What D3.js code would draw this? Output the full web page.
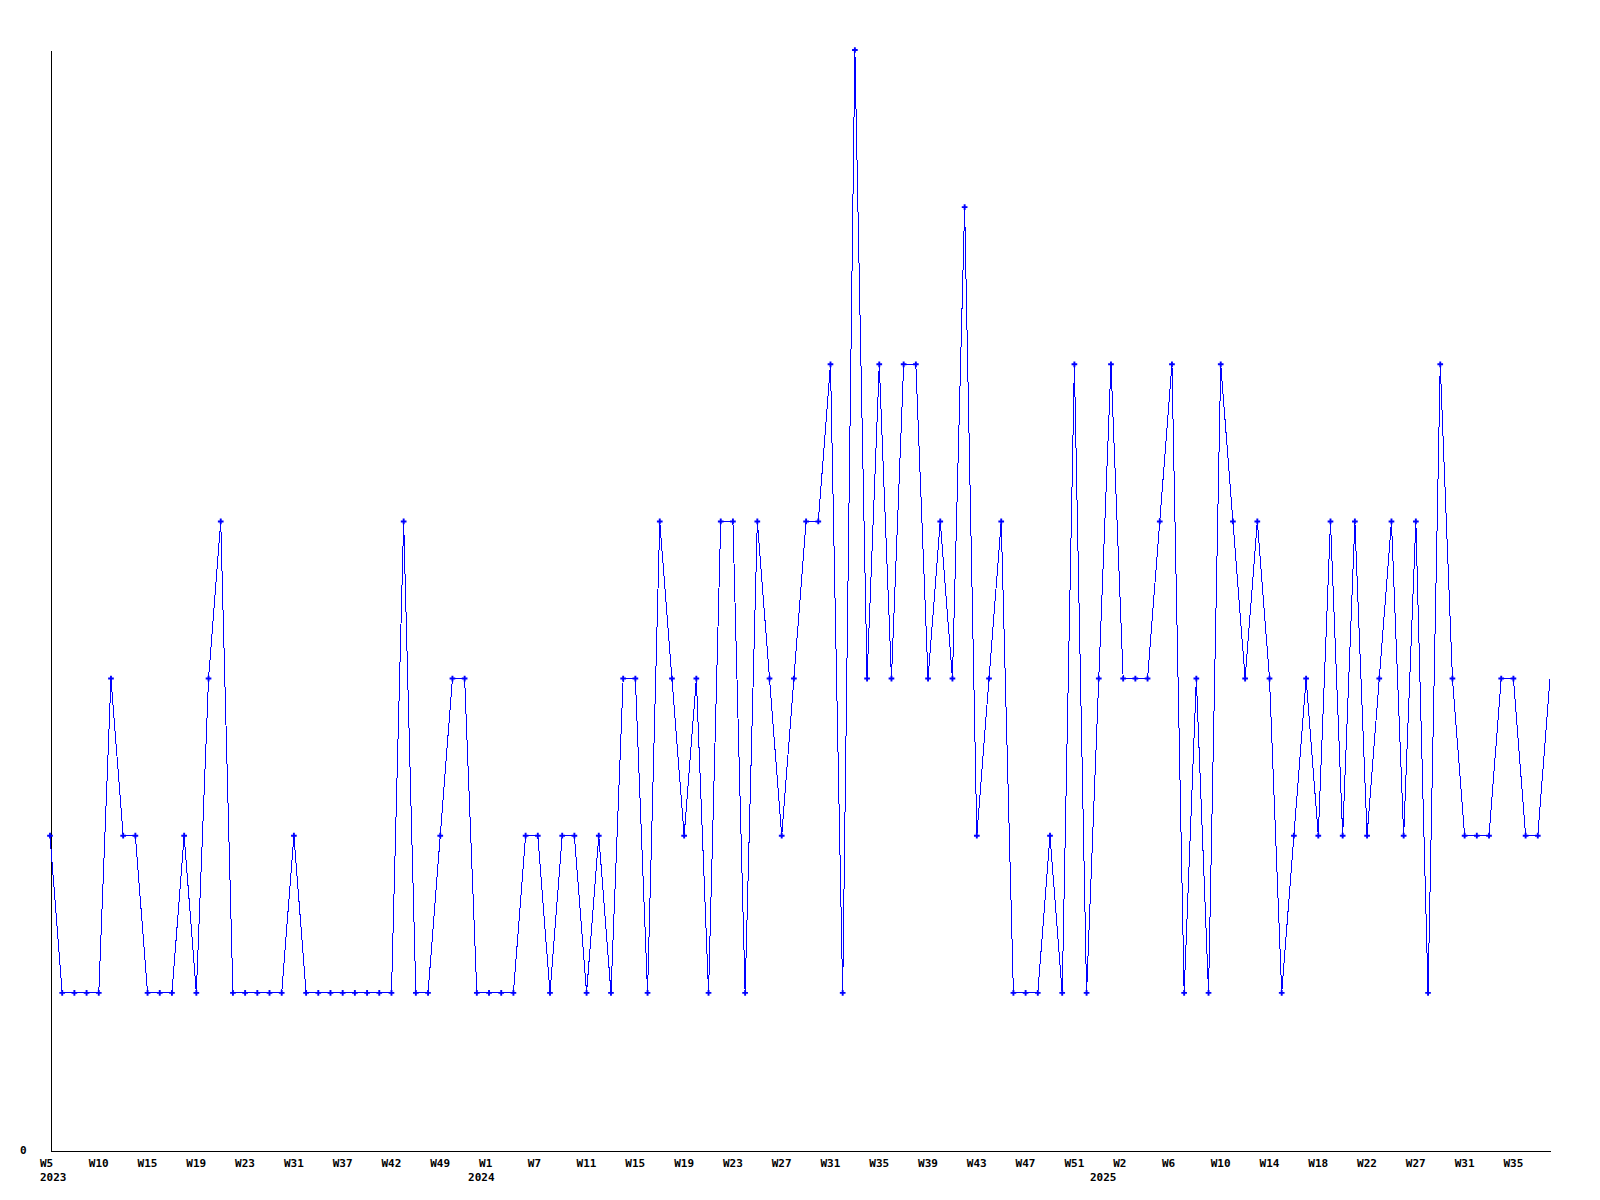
<!DOCTYPE html>
<html>
<head>
<meta charset="utf-8">
<script src="https://cdn.jsdelivr.net/npm/d3@7"></script>
<style>
    body { margin: 0; background: #fff; }
    text { font-family: "DejaVu Sans Mono", monospace; font-weight: bold; font-size: 11px; fill: #000; }
</style>
</head>
<body>
<svg id="vis" width="1600" height="1200"></svg>
<script>
/**
 * week numbers of each data point, one array per year
 */
const WEEKS_2023 = [5, 6, 7, 8, 10, 11, 12, 14, 15, 16, 17, 18, 19, 20, 21, 22, 23, 25, 27, 29,
    31, 32, 34, 35, 37, 38, 39, 40, 42, 43, 45, 47, 49, 50, 51, 52];
const WEEKS_2024 = [1, 2, 4, 5, 7, 8, 9, 10, 11, 12, 13, 14, 15, 16, 17, 18, 19, 20, 21, 22,
    23, 24, 25, 26, 27, 28, 29, 30, 31, 32, 33, 34, 35, 36, 37, 38, 39, 40, 41, 42,
    43, 44, 45, 46, 47, 48, 49, 50, 51, 52, 53];
const WEEKS_2025 = [1, 2, 3, 4, 5, 6, 7, 8, 9, 10, 11, 12, 13, 14, 15, 16, 17, 18, 19, 20,
    21, 22, 24, 25, 26, 27, 28, 29, 30, 31, 32, 33, 34, 35, 36, 37, 38];
const YEARS = [2023, 2024, 2025];

// weekly counts, in the same order as the weeks above
const VALUES = [
    2, 1, 1, 1, 1, 3, 2, 2, 1, 1,
    1, 2, 1, 3, 4, 1, 1, 1, 1, 1,
    2, 1, 1, 1, 1, 1, 1, 1, 1, 4,
    1, 1, 2, 3, 3, 1, 1, 1, 1, 2,
    2, 1, 2, 2, 1, 2, 1, 3, 3, 1,
    4, 3, 2, 3, 1, 4, 4, 1, 4, 3,
    2, 3, 4, 4, 5, 1, 7, 3, 5, 3,
    5, 5, 3, 4, 3, 6, 2, 3, 4, 1,
    1, 1, 2, 1, 5, 1, 3, 5, 3, 3,
    3, 4, 5, 1, 3, 1, 5, 4, 3, 4,
    3, 1, 2, 3, 2, 4, 2, 4, 2, 3,
    4, 2, 4, 1, 5, 3, 2, 2, 2, 3,
    3, 2, 2, 3
];

const Y_TICKS = [0];
const LABEL_EVERY = 4;   // one week label every 4 points

const MARGINS = {top: 50, right: 50, bottom: 50, left: 50};

window.onload = function(){
    setup();
};

function setup(){
    var svg = d3.select("#vis");
    var width = +svg.attr("width");
    var height = +svg.attr("height");

    // build one record per point
    var weekLists = [WEEKS_2023, WEEKS_2024, WEEKS_2025];
    var data = [];
    weekLists.forEach(function(list, y){
        list.forEach(function(w){
            data.push({year: YEARS[y], week: w});
        });
    });
    data.forEach(function(d, i){
        d.index = i;
        d.value = VALUES[i];
    });

    var xScale = d3.scaleLinear()
        .domain([0, data.length - 1])
        .range([MARGINS.left, width - MARGINS.right]);
    var yScale = d3.scaleLinear()
        .domain([0, d3.max(VALUES)])
        .range([height - MARGINS.bottom, MARGINS.top]);

    // x axis: week labels, no ticks
    var xAxis = d3.axisBottom(xScale)
        .tickValues(d3.range(0, data.length, LABEL_EVERY))
        .tickFormat(function(i){ return "W" + data[i].week; })
        .tickSize(0)
        .tickSizeOuter(0);
    var gx = svg.append("g")
        .attr("transform", `translate(0, ${height - MARGINS.bottom + 0.5})`)
        .call(xAxis);
    gx.select(".domain").attr("stroke", "#000").attr("shape-rendering", "crispEdges");
    gx.selectAll(".tick text")
        .attr("y", 16)
        .attr("dy", null)
        .attr("x", -10.5)
        .attr("text-anchor", "start")
        .style("font-family", null).style("font-size", null);

    // y axis: only the zero label
    var yAxis = d3.axisLeft(yScale)
        .tickValues(Y_TICKS)
        .tickFormat(d3.format("d"))
        .tickSize(0)
        .tickSizeOuter(0)
        .tickPadding(24);
    var gy = svg.append("g")
        .attr("transform", `translate(${MARGINS.left + 0.5}, 0)`)
        .call(yAxis);
    gy.select(".domain").attr("stroke", "#000").attr("shape-rendering", "crispEdges");
    gy.selectAll(".tick text")
        .attr("dy", "0.32em")
        .style("font-family", null).style("font-size", null);

    // year labels, under the first week of each year
    YEARS.forEach(function(yr){
        var first = data.find(function(d){ return d.year === yr; });
        var t = svg.append("text")
            .attr("y", height - MARGINS.bottom + 31)
            .text(yr);
        if (first.index === 0){
            t.attr("x", xScale(0) - 10).attr("text-anchor", "start");
        } else {
            t.attr("x", xScale(first.index) + 5.5).attr("text-anchor", "end");
        }
    });

    // the line
    var line = d3.line()
        .x(function(d){ return xScale(d.index); })
        .y(function(d){ return yScale(d.value); });
    svg.append("path")
        .datum(data)
        .attr("d", line)
        .attr("fill", "none")
        .attr("stroke", "#0000ff")
        .attr("stroke-width", 1)
        .attr("shape-rendering", "crispEdges");

    // small cross markers (the last, partial week has none)
    svg.selectAll(".pt")
        .data(data.slice(0, -1))
        .enter()
        .append("path")
        .attr("class", "pt")
        .attr("d", d3.symbol(d3.symbolCross).size(18))
        .attr("transform", function(d){
            return `translate(${xScale(d.index)}, ${yScale(d.value)})`;
        })
        .attr("fill", "#0000ff");
}
</script>
</body>
</html>
